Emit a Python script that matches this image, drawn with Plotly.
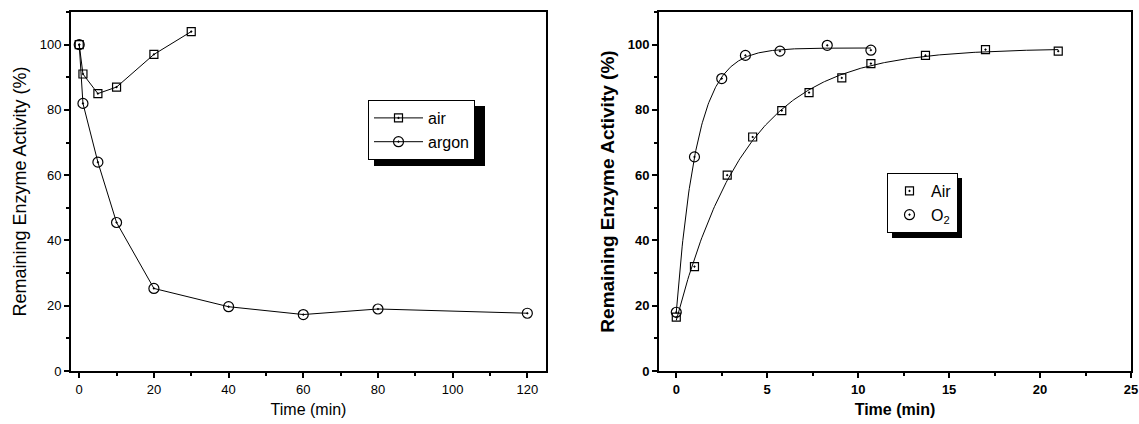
import numpy as np
import plotly.graph_objects as go

# Left panel: activity during incubation under air / argon
t_air_a = [0, 1, 5, 10, 20, 30]
act_air_a = [100, 91, 85, 87, 97, 104]
t_argon = [0, 1, 5, 10, 20, 40, 60, 80, 120]
act_argon = [100, 82, 64, 45.5, 25.3, 19.7, 17.3, 19.0, 17.7]

# Right panel: reactivation under air / O2
t_air_b = [0, 1, 2.8, 4.2, 5.8, 7.3, 9.1, 10.7, 13.7, 17.0, 21.0]
act_air_b = [16.5, 32.0, 60.0, 71.7, 79.8, 85.3, 89.8, 94.2, 96.7, 98.5, 98.0]
t_o2 = [0, 1, 2.5, 3.8, 5.7, 8.3, 10.7]
act_o2 = [18.0, 65.6, 89.6, 96.7, 98.0, 99.8, 98.3]

left_xticks = [0, 20, 40, 60, 80, 100, 120]
right_xticks = [0, 5, 10, 15, 20, 25]
yticks = [0, 20, 40, 60, 80, 100]

W, H = 1139, 424
FONT = "Liberation Sans, Arial, Helvetica, sans-serif"


def exp_rise_fit(t, y, n=300):
    """Least-squares fit of y = a - b*exp(-k t); returns a smooth curve."""
    t = np.asarray(t, float)
    y = np.asarray(y, float)
    best = None
    for k in np.linspace(0.02, 3.0, 2981):
        X = np.column_stack([np.ones_like(t), -np.exp(-k * t)])
        coef, *_ = np.linalg.lstsq(X, y, rcond=None)
        sse = float(np.sum((X @ coef - y) ** 2))
        if best is None or sse < best[0]:
            best = (sse, k, coef)
    _, k, (a, b) = best
    tt = np.linspace(t.min(), t.max(), n)
    return tt, a - b * np.exp(-k * tt)


def px_x(v):
    return v / W


def px_y(v):
    return 1 - v / H


fig = go.Figure()

line = dict(color="black", width=1)
sq = dict(symbol="square-open-dot", size=8, color="black",
          line=dict(width=1.2, color="black"))
ci = dict(symbol="circle-open-dot", size=10, color="black",
          line=dict(width=1.2, color="black"))

# ---- left panel ----
fig.add_trace(go.Scatter(x=t_air_a, y=act_air_a, mode="lines+markers", name="air",
                         line=line, marker=sq, xaxis="x", yaxis="y", legend="legend"))
fig.add_trace(go.Scatter(x=t_argon, y=act_argon, mode="lines+markers", name="argon",
                         line=line, marker=ci, xaxis="x", yaxis="y", legend="legend"))

# ---- right panel: fitted curves + points ----
fx, fy = exp_rise_fit(t_air_b, act_air_b)
fig.add_trace(go.Scatter(x=fx, y=fy, mode="lines", line=line, showlegend=False,
                         hoverinfo="skip", xaxis="x2", yaxis="y2"))
gx, gy = exp_rise_fit(t_o2, act_o2)
fig.add_trace(go.Scatter(x=gx, y=gy, mode="lines", line=line, showlegend=False,
                         hoverinfo="skip", xaxis="x2", yaxis="y2"))
fig.add_trace(go.Scatter(x=t_air_b, y=act_air_b, mode="markers", name="Air",
                         marker=sq, xaxis="x2", yaxis="y2", legend="legend2"))
fig.add_trace(go.Scatter(x=t_o2, y=act_o2, mode="markers", name="O<sub>2</sub>",
                         marker=ci, xaxis="x2", yaxis="y2", legend="legend2"))

axis_common = dict(
    showline=True, linewidth=2, linecolor="black", mirror=True,
    ticks="outside", ticklen=5, tickwidth=1.5, tickcolor="black",
    showgrid=False, zeroline=False, automargin=False,
)
minor_common = dict(ticks="outside", ticklen=3, tickwidth=1.5, tickcolor="black")

ydom = [px_y(371), px_y(12)]

fig.update_layout(
    width=W, height=H,
    margin=dict(l=0, r=0, t=0, b=0),
    paper_bgcolor="white", plot_bgcolor="white",
    font=dict(family=FONT, color="black", size=13),
    xaxis=dict(axis_common, domain=[px_x(71), px_x(546)], range=[-2.2, 125],
               tickvals=left_xticks, minor=dict(minor_common, dtick=10, tick0=0),
               anchor="y",
               title=dict(text="Time (min)", font=dict(size=16), standoff=8)),
    yaxis=dict(axis_common, domain=ydom, range=[0, 110], tickvals=yticks,
               minor=dict(minor_common, dtick=10, tick0=0), anchor="x",
               title=dict(text="Remaining Enzyme Activity (%)", font=dict(size=18),
                          standoff=8)),
    xaxis2=dict(axis_common, domain=[px_x(659), px_x(1131)], range=[-0.95, 25],
                tickvals=right_xticks, minor=dict(minor_common, dtick=2.5, tick0=0),
                anchor="y2", tickfont=dict(weight="bold"),
                title=dict(text="Time (min)", font=dict(size=16, weight="bold"),
                           standoff=8)),
    yaxis2=dict(axis_common, domain=ydom, range=[0, 110], tickvals=yticks,
                minor=dict(minor_common, dtick=10, tick0=0), anchor="x2",
                tickfont=dict(weight="bold"),
                title=dict(text="Remaining Enzyme Activity (%)",
                           font=dict(size=19, weight="bold"), standoff=8)),
    legend=dict(x=px_x(368), y=px_y(100), xanchor="left", yanchor="top",
                bgcolor="white", bordercolor="black", borderwidth=1,
                font=dict(size=16), itemwidth=49, tracegroupgap=0),
    legend2=dict(x=px_x(887), y=px_y(173), xanchor="left", yanchor="top",
                 bgcolor="white", bordercolor="black", borderwidth=1,
                 font=dict(size=16), itemwidth=33, tracegroupgap=0),
    shapes=[
        # drop shadows behind the legend boxes
        dict(type="rect", xref="paper", yref="paper",
             x0=px_x(374), x1=px_x(485), y0=px_y(166), y1=px_y(106),
             fillcolor="black", line=dict(width=0), layer="above"),
        dict(type="rect", xref="paper", yref="paper",
             x0=px_x(892), x1=px_x(962), y0=px_y(238), y1=px_y(178),
             fillcolor="black", line=dict(width=0), layer="above"),
    ],
)

fig.write_html("out.html")
